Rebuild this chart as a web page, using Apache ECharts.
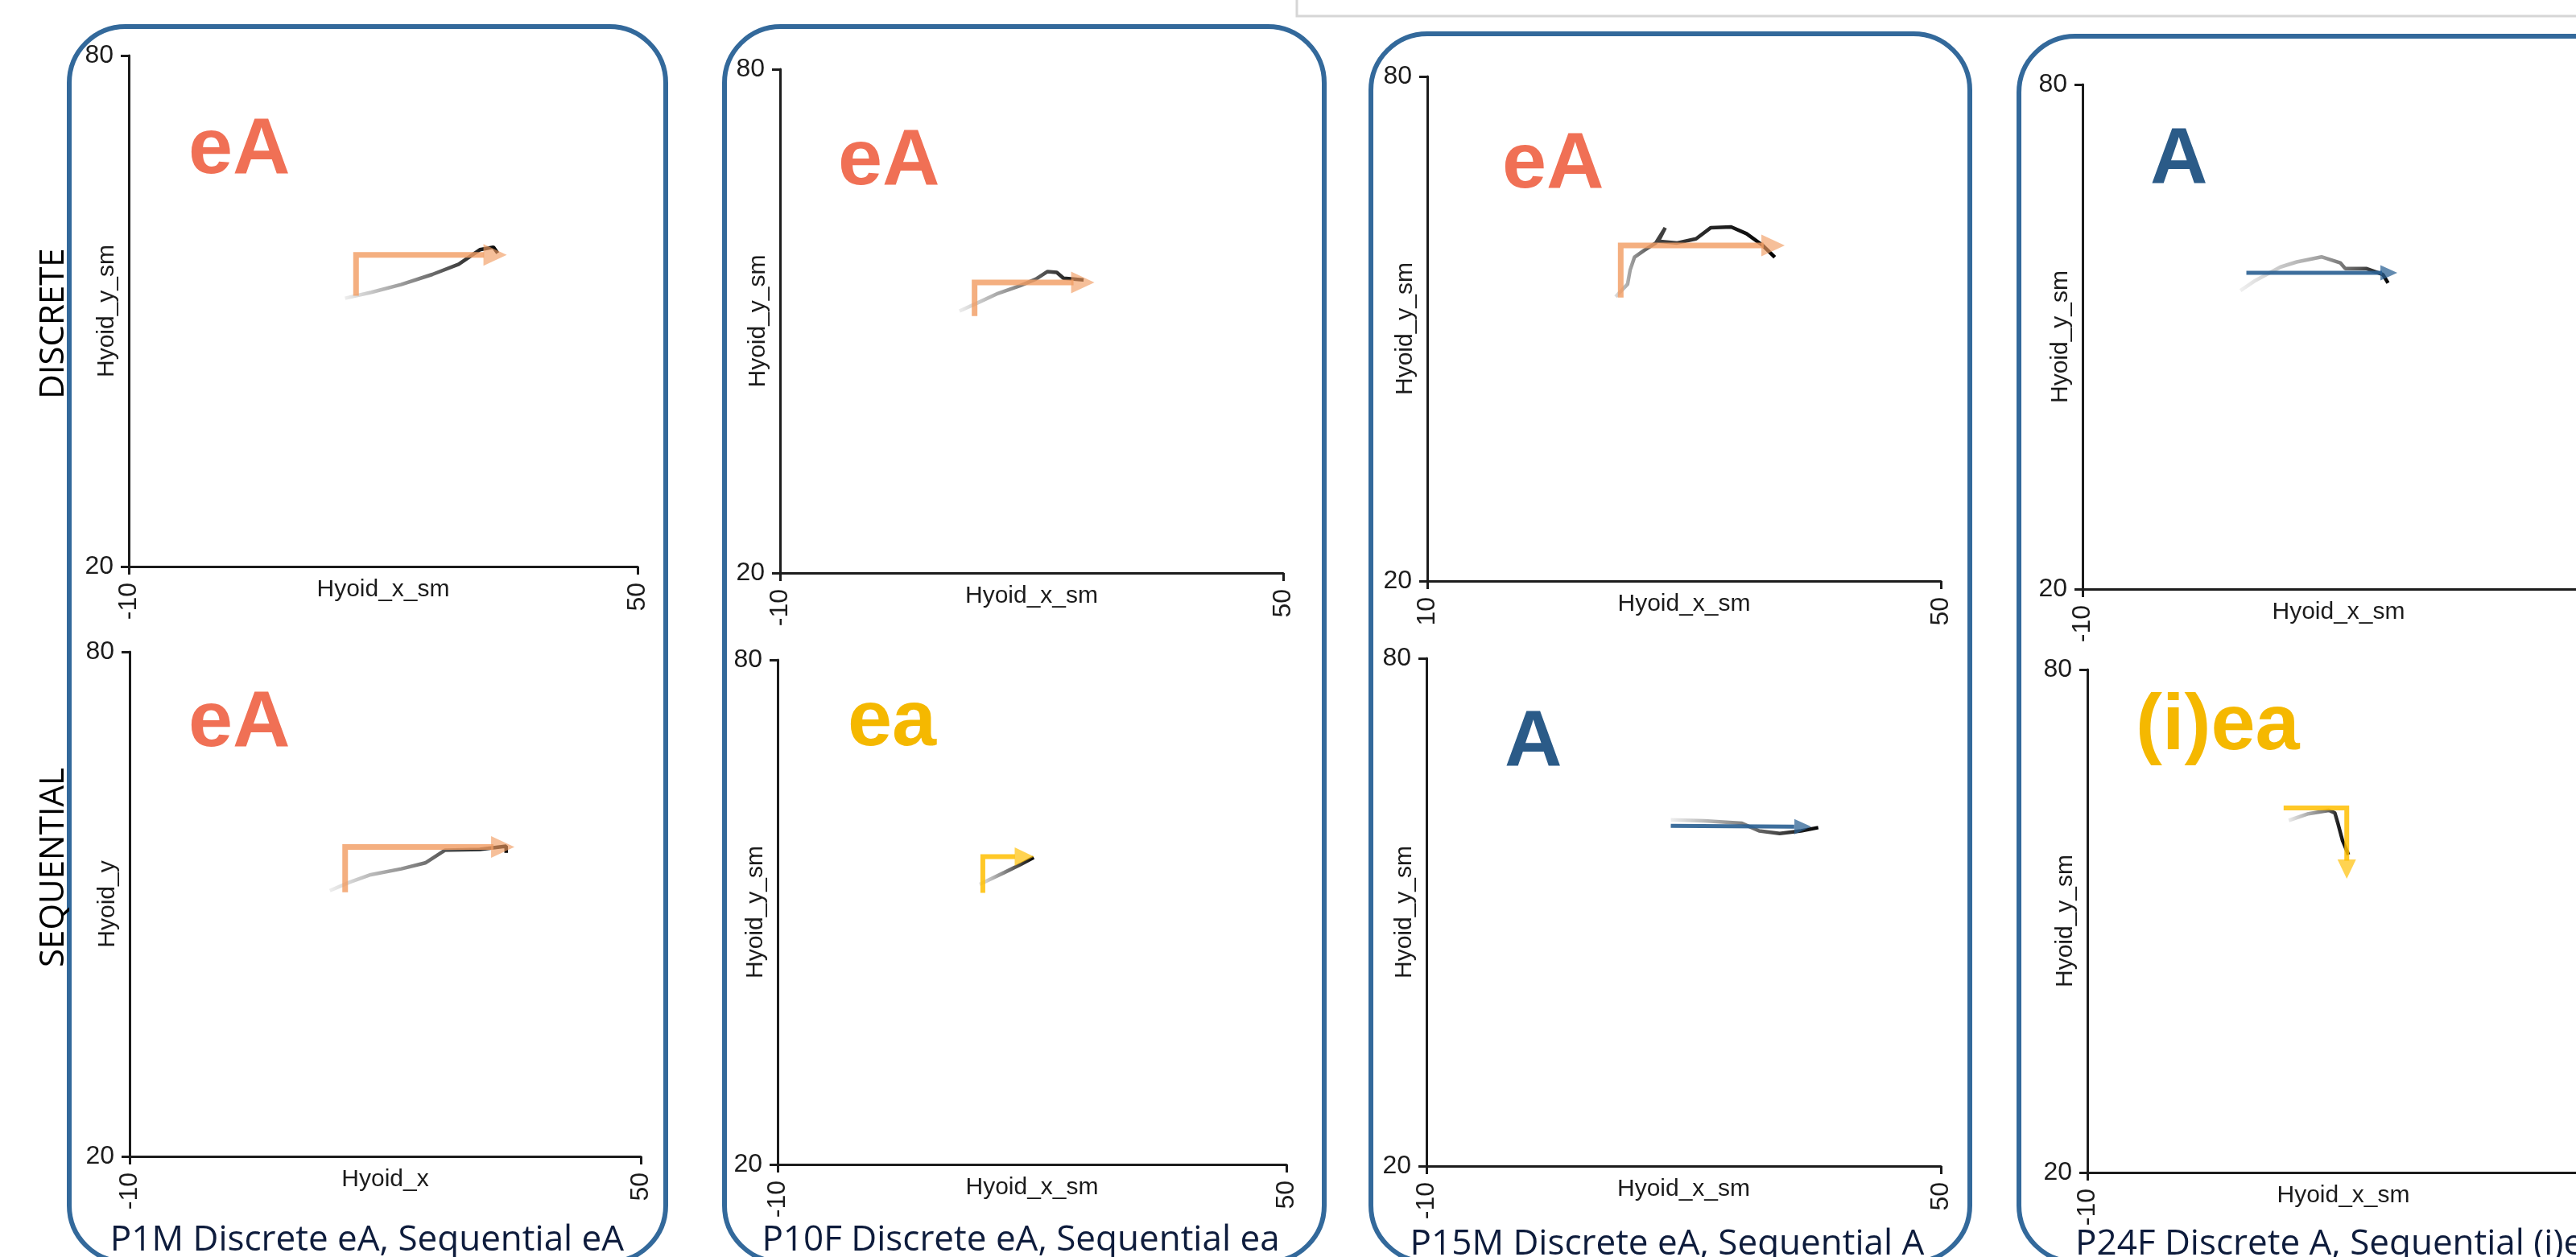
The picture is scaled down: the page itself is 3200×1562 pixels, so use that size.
<!DOCTYPE html>
<html>
<head>
<meta charset="utf-8">
<title>Hyoid trajectories, discrete vs sequential</title>
<script src="https://cdn.jsdelivr.net/npm/echarts@6/dist/echarts.min.js"></script>
<style>
  html, body { margin: 0; padding: 0; background: #fff; }
  #chart { width: 3200px; height: 1562px; }
</style>
</head>
<body>
<div id="chart"></div>
<script>
// ticks shared by every panel
const xTicks = [-10, 50];
const yTicks = [20, 80];
const xLabelsFull = ['-10', '50'];
const xLabelsClipped = ['10', '50']; // P15M top panel prints "10"

// hyoid trajectories (x, y)
const p1DiscreteTrack = [[15.5, 51.5], [18.6, 52.2], [22.1, 53.1], [25.8, 54.3], [28.9, 55.5], [31.4, 57.2], [33.0, 57.5], [33.5, 56.8]];
const p1SequentialTrack = [[13.5, 51.6], [15.8, 52.6], [18.3, 53.5], [21.9, 54.2], [24.7, 54.9], [27.0, 56.4], [31.1, 56.5], [34.2, 56.9], [34.2, 56.1]];
const p10DiscreteTrack = [[11.4, 51.2], [13.4, 52.1], [16.0, 53.3], [18.6, 54.2], [20.5, 55.0], [21.9, 55.9], [23.0, 55.8], [23.8, 55.1], [25.0, 55.0], [26.2, 54.9]];
const p10SequentialTrack = [[13.8, 53.3], [16.7, 54.7], [18.7, 55.7], [20.2, 56.5]];
const p15DiscreteTrack = [[12.0, 53.8], [13.4, 55.3], [13.7, 57.0], [14.2, 58.5], [15.3, 59.3], [16.7, 60.2], [17.8, 62.0], [17.0, 60.4], [19.2, 60.2], [21.4, 60.7], [23.1, 62.0], [25.5, 62.1], [27.3, 61.3], [29.2, 59.9], [30.6, 58.5]];
const p15SequentialTrack = [[18.5, 60.9], [22.4, 60.8], [26.8, 60.5], [28.8, 59.6], [31.2, 59.3], [33.7, 59.6], [35.7, 60.0]];
const p24DiscreteTrack = [[8.5, 55.5], [10.1, 56.6], [13.2, 58.3], [15.1, 58.9], [18.0, 59.5], [20.2, 58.8], [20.8, 58.1], [23.3, 58.1], [25.2, 57.4], [25.8, 56.4]];
const p24SequentialTrack = [[13.6, 62.0], [15.9, 62.8], [18.3, 63.2], [19.0, 62.9], [19.4, 61.5], [19.9, 59.6], [20.6, 57.9]];

// schematic arrows: stem polyline and arrowhead centre
const p1DiscreteStem = [[16.8, 51.8], [16.8, 56.6], [31.9, 56.6]];
const p1DiscreteHead = [33.2, 56.6];
const p1SequentialStem = [[15.3, 51.4], [15.3, 56.8], [32.7, 56.8]];
const p1SequentialHead = [33.8, 56.8];
const p10DiscreteStem = [[13.2, 50.6], [13.2, 54.6], [25.0, 54.6]];
const p10DiscreteHead = [26.1, 54.6];
const p10SequentialStem = [[14.2, 52.3], [14.2, 56.6], [18.0, 56.6]];
const p10SequentialHead = [19.1, 56.6];
const p15DiscreteStem = [[12.6, 53.7], [12.6, 59.9], [29.3, 59.9]];
const p15DiscreteHead = [30.4, 59.9];
const p15SequentialStem = [[18.5, 60.2], [32.9, 60.1]];
const p15SequentialHead = [33.9, 60.1];
const p24DiscreteStem = [[9.2, 57.6], [25.1, 57.6]];
const p24DiscreteHead = [25.9, 57.6];
const p24SequentialStem = [[13.0, 63.5], [20.4, 63.5], [20.4, 57.2]];
const p24SequentialHead = [20.4, 56.2];

// category labels and captions
const gestureLabels = ['eA', 'eA', 'eA', 'ea', 'eA', 'A', 'A', '(i)ea'];
const captions = [
  'P1M Discrete eA, Sequential eA',
  'P10F Discrete eA, Sequential ea',
  'P15M Discrete eA, Sequential A',
  'P24F Discrete A, Sequential (i)ea'
];

const AXIS_FONT = '"Liberation Sans", Arial, sans-serif';
const CAPTION_FONT = '"Open Sans", "Noto Sans", sans-serif';
const AXIS_COLOR = '#1c1c1c';
const BOX_COLOR = '#33699b';

const tones = {
  orange: { text: '#f07055', arrow: 'rgba(241,158,100,0.82)', stem: 7, head: [27, 29] },
  gold: { text: '#f5b800', arrow: 'rgba(255,190,0,0.85)', stem: 6, head: [23, 24] },
  blue: { text: '#2b5b88', arrow: 'rgba(44,98,148,0.92)', stem: 5, head: [19, 21] }
};

const defaultShade = [[0, '#f0f0f0'], [0.45, '#8a8a8a'], [1, '#000']];

const panels = [
  { track: p1DiscreteTrack, stem: p1DiscreteStem, head: p1DiscreteHead, tone: 'orange', dir: 'right',
    xName: 'Hyoid_x_sm', yName: 'Hyoid_y_sm', xLabels: xLabelsFull,
    grid: { left: 160, top: 69, width: 632, height: 635 }, labelAt: [234, 188] },
  { track: p1SequentialTrack, stem: p1SequentialStem, head: p1SequentialHead, tone: 'orange', dir: 'right',
    xName: 'Hyoid_x', yName: 'Hyoid_y', xLabels: xLabelsFull,
    grid: { left: 161, top: 810, width: 635, height: 627 }, labelAt: [234, 900] },
  { track: p10DiscreteTrack, stem: p10DiscreteStem, head: p10DiscreteHead, tone: 'orange', dir: 'right',
    xName: 'Hyoid_x_sm', yName: 'Hyoid_y_sm', xLabels: xLabelsFull,
    grid: { left: 969, top: 86, width: 625, height: 626 }, labelAt: [1041, 202] },
  { track: p10SequentialTrack, stem: p10SequentialStem, head: p10SequentialHead, tone: 'gold', dir: 'right',
    xName: 'Hyoid_x_sm', yName: 'Hyoid_y_sm', xLabels: xLabelsFull,
    grid: { left: 966, top: 820, width: 632, height: 627 }, labelAt: [1053, 899] },
  { track: p15DiscreteTrack, stem: p15DiscreteStem, head: p15DiscreteHead, tone: 'orange', dir: 'right',
    xName: 'Hyoid_x_sm', yName: 'Hyoid_y_sm', xLabels: xLabelsClipped,
    grid: { left: 1773, top: 95, width: 638, height: 627 }, labelAt: [1866, 206],
    shade: [[0, '#e2e2e2'], [0.25, '#444'], [1, '#000']] },
  { track: p15SequentialTrack, stem: p15SequentialStem, head: p15SequentialHead, tone: 'blue', dir: 'right',
    xName: 'Hyoid_x_sm', yName: 'Hyoid_y_sm', xLabels: xLabelsFull,
    grid: { left: 1772, top: 818, width: 639, height: 631 }, labelAt: [1869, 924] },
  { track: p24DiscreteTrack, stem: p24DiscreteStem, head: p24DiscreteHead, tone: 'blue', dir: 'right',
    xName: 'Hyoid_x_sm', yName: 'Hyoid_y_sm', xLabels: xLabelsFull,
    grid: { left: 2587, top: 105, width: 636, height: 627 }, labelAt: [2671, 200],
    shade: [[0, '#f2f2f2'], [0.55, '#a0a0a0'], [0.8, '#555'], [1, '#000']] },
  { track: p24SequentialTrack, stem: p24SequentialStem, head: p24SequentialHead, tone: 'gold', dir: 'down',
    xName: 'Hyoid_x_sm', yName: 'Hyoid_y_sm', xLabels: xLabelsFull,
    grid: { left: 2593, top: 832, width: 636, height: 625 }, labelAt: [2653, 904],
    shade: [[0, '#f0f0f0'], [0.6, '#777'], [0.8, '#222'], [1, '#000']] }
];

// rounded participant boxes
const boxes = [
  { x: 86, y: 33, w: 741 },
  { x: 900, y: 33, w: 745 },
  { x: 1703, y: 42, w: 744 },
  { x: 2508, y: 45, w: 760 }
];
const captionAt = [[456, 1541, 'center'], [1268, 1541, 'center'], [2071, 1546, 'center'], [2578, 1546, 'left']];

const grids = [];
const xAxes = [];
const yAxes = [];
const series = [];
const graphics = [];

panels.forEach((p, i) => {
  const tone = tones[p.tone];
  grids.push(Object.assign({ containLabel: false, outerBoundsMode: 'none' }, p.grid));

  xAxes.push({
    type: 'value', gridIndex: i, min: -10, max: 50, position: 'bottom',
    name: p.xName, nameLocation: 'middle', nameGap: 14, nameMoveOverlap: false,
    nameTextStyle: { fontSize: 30, color: AXIS_COLOR, fontFamily: AXIS_FONT },
    axisLine: { show: true, onZero: false, lineStyle: { color: AXIS_COLOR, width: 3 } },
    axisTick: { show: true, length: 10, customValues: xTicks, lineStyle: { color: AXIS_COLOR, width: 3 } },
    axisLabel: {
      customValues: xTicks, rotate: 90, margin: 20, fontSize: 32, color: AXIS_COLOR, fontFamily: AXIS_FONT,
      formatter: v => p.xLabels[xTicks.indexOf(v)]
    },
    splitLine: { show: false }
  });

  yAxes.push({
    type: 'value', gridIndex: i, min: 20, max: 80, position: 'left',
    name: p.yName, nameLocation: 'middle', nameGap: 12, nameMoveOverlap: false,
    nameTextStyle: { fontSize: 30, color: AXIS_COLOR, fontFamily: AXIS_FONT },
    axisLine: { show: true, onZero: false, lineStyle: { color: AXIS_COLOR, width: 3 } },
    axisTick: { show: true, length: 10, customValues: yTicks, lineStyle: { color: AXIS_COLOR, width: 3 } },
    axisLabel: { customValues: yTicks, margin: 19, fontSize: 32, color: AXIS_COLOR, fontFamily: AXIS_FONT },
    splitLine: { show: false }
  });

  const shade = (p.shade || defaultShade).map(s => ({ offset: s[0], color: s[1] }));

  series.push({
    type: 'line', xAxisIndex: i, yAxisIndex: i, data: p.track,
    symbol: 'none', showSymbol: false, silent: true, z: 3,
    lineStyle: { width: 4.5, color: new echarts.graphic.LinearGradient(0, 0, 1, 0, shade) }
  });
  series.push({
    type: 'line', xAxisIndex: i, yAxisIndex: i, data: p.stem,
    symbol: 'none', showSymbol: false, silent: true, z: 4,
    lineStyle: { width: tone.stem, color: tone.arrow, join: 'miter', cap: 'butt' }
  });
  series.push({
    type: 'scatter', xAxisIndex: i, yAxisIndex: i, data: [p.head],
    symbol: 'triangle', symbolSize: tone.head, symbolRotate: p.dir === 'down' ? 180 : -90,
    silent: true, z: 5, itemStyle: { color: tone.arrow }
  });

  graphics.push({
    type: 'text', x: p.labelAt[0], y: p.labelAt[1], silent: true,
    style: {
      text: gestureLabels[i], fill: tone.text,
      font: 'bold 99px ' + AXIS_FONT,
      textAlign: 'left', textVerticalAlign: 'middle'
    }
  });
});

boxes.forEach(b => {
  graphics.push({
    type: 'rect', silent: true, z: -1,
    shape: { x: b.x, y: b.y, width: b.w, height: 1568 - b.y, r: 70 },
    style: { fill: 'none', stroke: BOX_COLOR, lineWidth: 6 }
  });
});

captions.forEach((c, i) => {
  graphics.push({
    type: 'text', x: captionAt[i][0], y: captionAt[i][1], silent: true,
    style: {
      text: c, fill: '#0e1c3c', font: '44px ' + CAPTION_FONT,
      textAlign: captionAt[i][2], textVerticalAlign: 'middle'
    }
  });
});

// row headings
[['DISCRETE', 402], ['SEQUENTIAL', 1078]].forEach(r => {
  graphics.push({
    type: 'text', x: 67, y: r[1], rotation: Math.PI / 2, silent: true,
    style: {
      text: r[0], fill: '#000', font: '42px ' + CAPTION_FONT,
      textAlign: 'center', textVerticalAlign: 'middle'
    }
  });
});

// light grey frame peeking in at the top right
graphics.push({
  type: 'rect', silent: true,
  shape: { x: 1611, y: -20, width: 1700, height: 40 },
  style: { fill: '#fff', stroke: '#d6d6d6', lineWidth: 3 }
});

const chart = echarts.init(document.getElementById('chart'));
chart.setOption({
  backgroundColor: '#fff',
  animation: false,
  grid: grids,
  xAxis: xAxes,
  yAxis: yAxes,
  series: series,
  graphic: { elements: graphics }
});
</script>
</body>
</html>
